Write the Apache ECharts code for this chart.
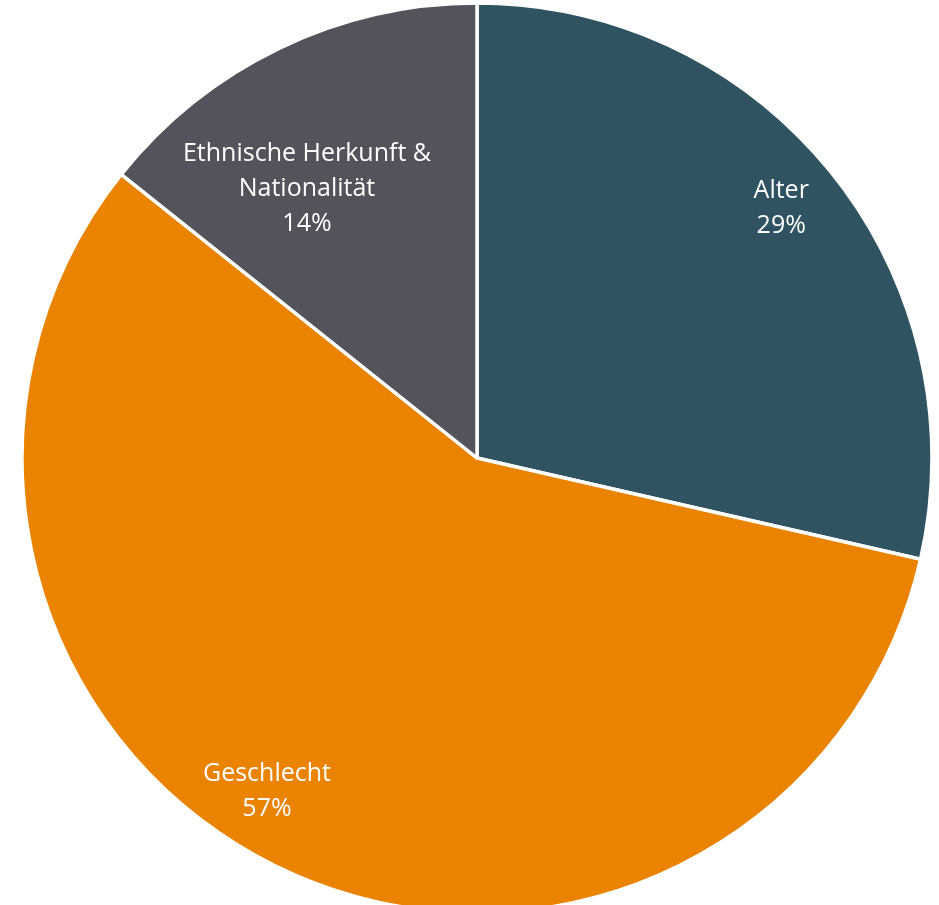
<!DOCTYPE html>
<html>
<head>
<meta charset="utf-8">
<script src="https://cdn.jsdelivr.net/npm/echarts@6/dist/echarts.min.js"></script>
<style>
  html, body { margin: 0; padding: 0; background: #ffffff; }
  #chart { width: 939px; height: 905px; }
</style>
</head>
<body>
<div id="chart"></div>
<script>
// Categories and counts
const categories = ['Alter', 'Geschlecht', 'Ethnische Herkunft &\nNationalität'];
const counts = [2, 4, 1];

// Slice colours, in category order
const sliceColors = ['#2f5361', '#e98300', '#53535c'];
// Shift each label from the slice's mid-radius towards the rim
const labelShift = [[124, -106], [-110, 126], [-70, -61]];

const chart = echarts.init(document.getElementById('chart'), null, { renderer: 'canvas' });

chart.setOption({
  animation: false,
  backgroundColor: '#ffffff',
  series: [{
    type: 'pie',
    center: [477, 458],
    radius: [0, 455],
    startAngle: 90,
    clockwise: true,
    avoidLabelOverlap: false,
    itemStyle: { borderColor: '#ffffff', borderWidth: 3.5 },
    label: {
      show: true,
      position: 'inside',
      color: '#ffffff',
      fontFamily: '"Open Sans", Lato, sans-serif',
      fontSize: 25,
      lineHeight: 35,
      align: 'center',
      formatter: p => p.name + '\n' + Math.round(p.percent) + '%'
    },
    labelLine: { show: false },
    emphasis: { disabled: true },
    data: categories.map((name, i) => ({
      name,
      value: counts[i],
      itemStyle: { color: sliceColors[i] },
      label: { offset: labelShift[i] }
    }))
  }]
});
</script>
</body>
</html>
